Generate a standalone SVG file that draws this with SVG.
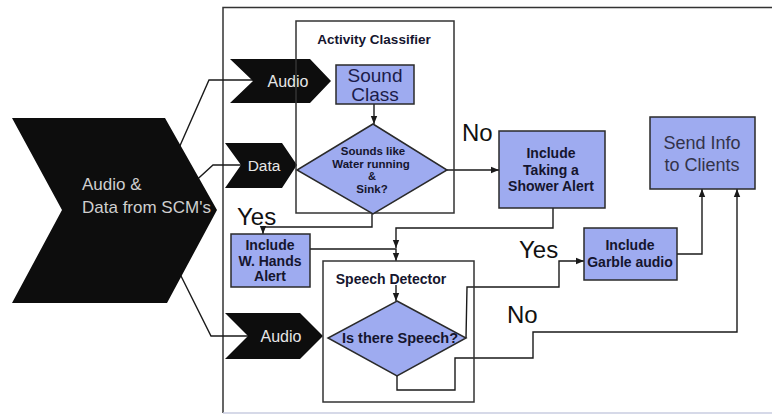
<svg xmlns="http://www.w3.org/2000/svg" width="772" height="415" viewBox="0 0 772 415">
  <defs>
    <marker id="ah" viewBox="0 0 10 10" refX="10" refY="5" markerWidth="8" markerHeight="8" markerUnits="userSpaceOnUse" orient="auto">
      <path d="M0,1 L10,5 L0,9 z" fill="#1a1a1a"/>
    </marker>
    <style>
      .frame { fill: none; stroke: #333; stroke-width: 1.5; }
      .box { fill: #9eabf0; stroke: #2a2a2a; stroke-width: 1.5; }
      .chev { fill: #0d0d0d; }
      .wire { fill: none; stroke: #1a1a1a; stroke-width: 1.4; }
      .arrow { marker-end: url(#ah); }
      .bold { font-family: "Liberation Sans", Arial, sans-serif; font-weight: bold; fill: #15152e; text-anchor: middle; }
      .reg { font-family: "Liberation Sans", Arial, sans-serif; text-anchor: middle; }
      .white { font-family: "Liberation Sans", Arial, sans-serif; fill: #e6e6e6; text-anchor: middle; }
      .big { font-family: "Liberation Sans", Arial, sans-serif; font-size: 24px; fill: #111; }
    </style>
  </defs>

  <rect width="772" height="415" fill="#ffffff"/>

  <!-- outer frame: open on the right -->
  <path class="frame" d="M775,7.5 H223 V413"/>
  <line x1="223" y1="413" x2="775" y2="413" stroke="#c9cde0" stroke-width="1.5"/>

  <!-- connectors -->
  <g id="connectors">
    <polyline class="wire" points="175,157 209,80 254,80"/>
    <polyline class="wire" points="190,186 213,165 241,165"/>
    <polyline class="wire" points="176,266 211,336 248,336"/>
    <polyline class="wire arrow" points="374,104 374,124"/>
    <polyline class="wire arrow" points="447,170 499,170"/>
    <polyline class="wire arrow" points="372,214 372,227 263,227 263,234"/>
    <polyline class="wire arrow" points="553,208 553,228 396,228 396,248"/>
    <polyline class="wire arrow" points="310,249 396,249 396,261"/>
    <polyline class="wire arrow" points="396,285 396,301"/>
    <polyline class="wire arrow" points="466,338 467,287 559,287 559,261 584,261"/>
    <polyline class="wire" points="397,376 397,390 455,390 455,358 533,358 533,332 737,332 737,300"/>
    <polyline class="wire arrow" points="737,300 737,189"/>
    <polyline class="wire arrow" points="677,254 702,254 702,189"/>
  </g>

  <!-- source chevron -->
  <g id="source">
    <polygon class="chev" points="12,118 165,118 217,210 167,303 12,303 62,210"/>
    <text class="white" style="font-size:17px; text-anchor:start; fill:#cfcfcf" x="82" y="190">Audio &amp;</text>
    <text class="white" style="font-size:17px; text-anchor:start; fill:#cfcfcf" x="82" y="213">Data from SCM's</text>
  </g>

  <g id="audio-in-1">
    <polygon class="chev" points="230,59 310,59 331,81 310,103 230,103 253,81"/>
    <text class="white" style="font-size:16px" x="288" y="87">Audio</text>
  </g>

  <g id="data-in">
    <polygon class="chev" points="225,143 282,143 297,165 282,188 225,188 241,165"/>
    <text class="white" style="font-size:15.5px" x="264" y="171">Data</text>
  </g>

  <g id="audio-in-2">
    <polygon class="chev" points="225,313 300,313 323,336 300,359 225,359 248,336"/>
    <text class="white" style="font-size:16px" x="281" y="342">Audio</text>
  </g>

  <!-- activity classifier -->
  <g id="activity-classifier">
    <rect class="frame" x="296" y="21" width="158" height="192"/>
    <text class="bold" style="font-size:13.5px" x="374" y="44">Activity Classifier</text>
  </g>

  <g id="sound-class">
    <rect class="box" x="336" y="65" width="78" height="39"/>
    <text class="reg" style="font-size:19px; fill:#1c1c4a" x="375" y="82">Sound</text>
    <text class="reg" style="font-size:19px; fill:#1c1c4a" x="375" y="101">Class</text>
  </g>

  <g id="water-sink">
    <polygon class="box" points="373,124 447,170 373,214 297,170"/>
    <text class="bold" style="font-size:11.5px" x="373" y="155">Sounds like</text>
    <text class="bold" style="font-size:11.5px" x="371" y="168">Water running</text>
    <text class="bold" style="font-size:11px" x="372" y="180">&amp;</text>
    <text class="bold" style="font-size:11.5px" x="372" y="193">Sink?</text>
  </g>

  <g id="shower-alert">
    <rect class="box" x="499" y="131" width="106" height="77"/>
    <text class="bold" style="font-size:14px" x="551" y="158">Include</text>
    <text class="bold" style="font-size:14px" x="551" y="175">Taking a</text>
    <text class="bold" style="font-size:14px" x="551" y="191">Shower Alert</text>
  </g>

  <g id="hands-alert">
    <rect class="box" x="231" y="234" width="79" height="53"/>
    <text class="bold" style="font-size:14px" x="270" y="250">Include</text>
    <text class="bold" style="font-size:14px" x="270" y="266">W. Hands</text>
    <text class="bold" style="font-size:14px" x="270" y="281">Alert</text>
  </g>

  <!-- speech detector -->
  <g id="speech-detector">
    <rect class="frame" x="323" y="261" width="151" height="141"/>
    <text class="bold" style="font-size:14px" x="391" y="284">Speech Detector</text>
  </g>

  <g id="speech-check">
    <polygon class="box" points="397,301 466,338 397,376 328,338"/>
    <text class="bold" style="font-size:14.5px" x="400" y="343">Is there Speech?</text>
  </g>

  <g id="garble-audio">
    <rect class="box" x="584" y="228" width="93" height="52"/>
    <text class="bold" style="font-size:14px" x="630" y="250">Include</text>
    <text class="bold" style="font-size:14px" x="630" y="267">Garble audio</text>
  </g>

  <g id="send-info">
    <rect class="box" x="650" y="117" width="105" height="72"/>
    <text class="reg" style="font-size:18px; fill:#33334a" x="702" y="149">Send Info</text>
    <text class="reg" style="font-size:18px; fill:#33334a" x="702" y="171">to Clients</text>
  </g>

  <!-- branch labels -->
  <text class="big" x="462" y="141">No</text>
  <text class="big" x="237" y="225">Yes</text>
  <text class="big" x="519" y="258">Yes</text>
  <text class="big" x="507" y="323">No</text>
</svg>
